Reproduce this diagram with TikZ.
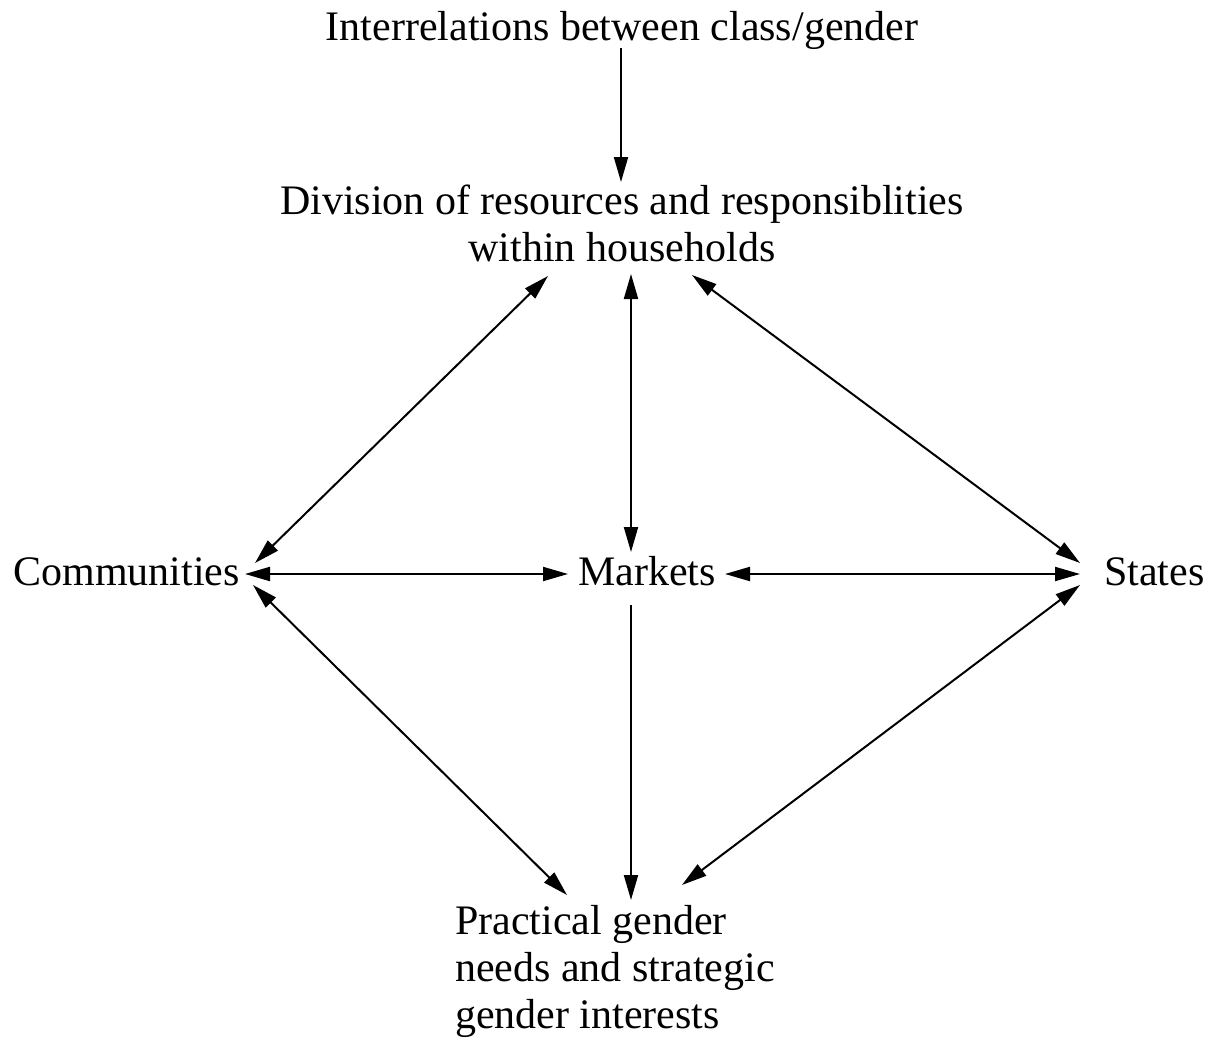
\documentclass[tikz,border=0pt]{standalone}
\usepackage{fontspec}
\setmainfont{Liberation Serif}
\usetikzlibrary{arrows.meta,calc}
\begin{document}
\begin{tikzpicture}[x=1pt,y=-1pt,
  lbl/.style={inner sep=0pt,font=\fontsize{42}{47}\selectfont},
  tip/.style={Triangle[length=25pt,width=14pt]},
  link/.style={line width=2pt,{Triangle[length=25pt,width=14pt]}-{Triangle[length=25pt,width=14pt]}},
  oneway/.style={line width=2pt,-{Triangle[length=25pt,width=14pt]}}]
\useasboundingbox (0,0) rectangle (1213,1044);

% labels
\node[lbl,anchor=base] (top) at (622,40) {Interrelations between class/gender};
\node[lbl,anchor=south,align=center] (div) at (622,262)
  {Division of resources and responsiblities\\within households};
\node[lbl,anchor=base east] (comm) at (240,585) {Communities};
\node[lbl,anchor=base west] (mkt) at (578,585) {Markets};
\node[lbl,anchor=base west] (st) at (1104,585) {States};
\node[lbl,anchor=north west,align=left] (prac) at (455,905)
  {Practical gender\\needs and strategic\\gender interests};

% connectors
\draw[oneway] ($(top.base)+(-1,8)$) -- ($(div.south)+(-1,-80)$);
\draw[link] ($(comm.base east)+(15,-22)$) -- ($(div.south)+(-74,14)$);
\draw[link] ($(div.south)+(9,12)$) -- ($(mkt.base west)+(53,-33)$);
\draw[link] ($(div.south)+(70,13)$) -- ($(st.base west)+(-24,-22)$);
\draw[link] ($(comm.base east)+(5,-11)$) -- ($(mkt.base west)+(-10,-11)$);
\draw[link] ($(mkt.base west)+(147,-11)$) -- ($(st.base west)+(-24,-11)$);
\draw[link] ($(comm.base east)+(13,0)$) -- ($(prac.north west)+(112,-10)$);
\draw[oneway] ($(mkt.base west)+(53,20)$) -- ($(prac.north west)+(176,-5)$);
\draw[link] ($(st.base west)+(-24,0)$) -- ($(prac.north west)+(227,-20)$);
\end{tikzpicture}
\end{document}
